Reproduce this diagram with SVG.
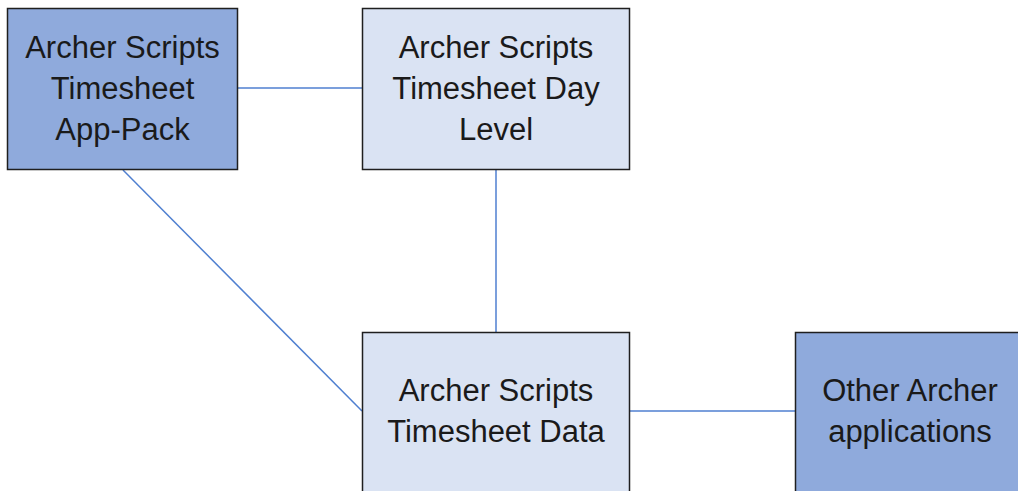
<svg xmlns="http://www.w3.org/2000/svg" width="1018" height="491" viewBox="0 0 1018 491">
<style>
.node{stroke:#1f1f1f;stroke-width:1.5}
.dark{fill:#8FAADC}
.light{fill:#DAE3F3}
.lbl{font-family:"Liberation Sans",Arial,sans-serif;font-size:31px;fill:#1a1a1a;text-anchor:middle}
.conn{stroke:#4F7FD0;stroke-width:1.5;fill:none}
</style>
<rect width="1018" height="491" fill="#ffffff"/>
<g id="connectors">
<line class="conn" x1="238" y1="88" x2="362" y2="88"/>
<line class="conn" x1="496" y1="170" x2="496" y2="332"/>
<line class="conn" x1="123" y1="170" x2="362" y2="411"/>
<line class="conn" x1="630" y1="411" x2="795" y2="411"/>
</g>
<g id="node-apppack">
<rect class="node dark" x="7.5" y="8.5" width="230" height="161"/>
<text class="lbl" x="122.5" y="58">Archer Scripts</text>
<text class="lbl" x="122.5" y="99">Timesheet</text>
<text class="lbl" x="122.5" y="140">App-Pack</text>
</g>
<g id="node-daylevel">
<rect class="node light" x="362.5" y="8.5" width="267" height="161"/>
<text class="lbl" x="496" y="58">Archer Scripts</text>
<text class="lbl" x="496" y="99">Timesheet Day</text>
<text class="lbl" x="496" y="140">Level</text>
</g>
<g id="node-data">
<rect class="node light" x="362.5" y="332.5" width="267" height="162"/>
<text class="lbl" x="496" y="401">Archer Scripts</text>
<text class="lbl" x="496" y="442">Timesheet Data</text>
</g>
<g id="node-other">
<rect class="node dark" x="795.5" y="332.5" width="231" height="162"/>
<text class="lbl" x="910" y="401">Other Archer</text>
<text class="lbl" x="910" y="442">applications</text>
</g>
</svg>
